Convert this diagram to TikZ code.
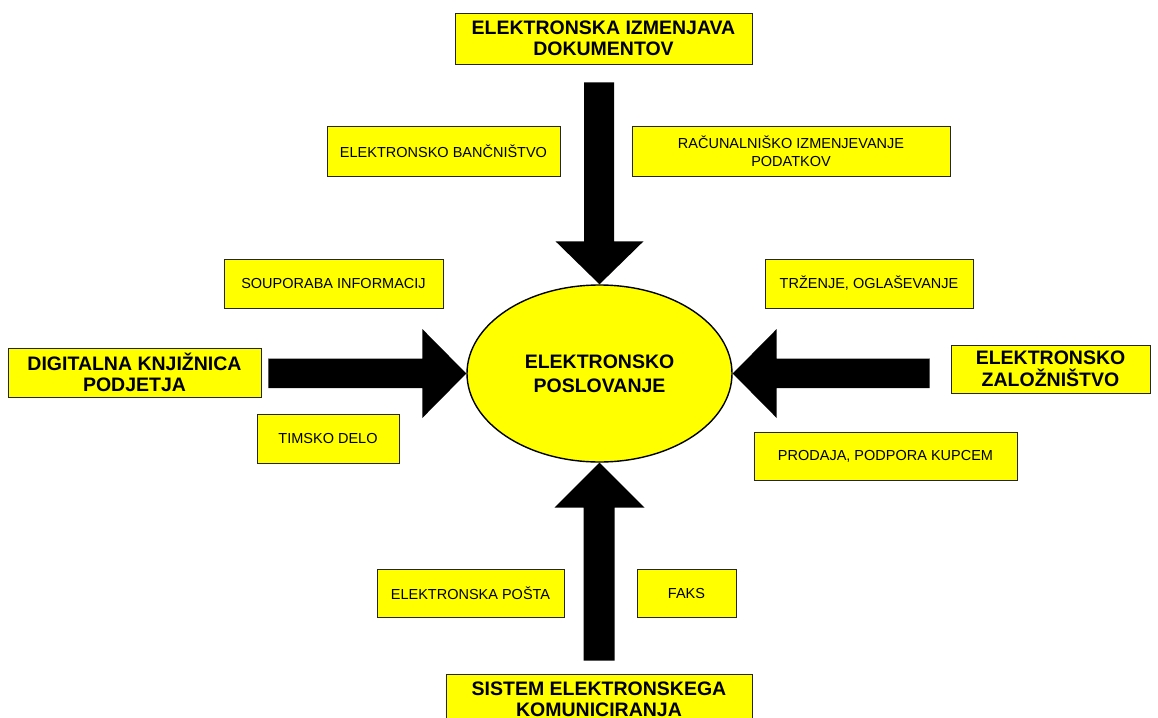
\documentclass[tikz,border=0pt]{standalone}
\usepackage{fontspec}
\setmainfont{Liberation Sans}
\usetikzlibrary{shapes.geometric,shadows,calc}

\definecolor{boxyellow}{RGB}{255,255,0}

\tikzset{
  box/.style={draw=black!85, line width=0.9pt, fill=boxyellow, inner sep=0pt,
    align=center, font=\fontsize{14.5}{18}\selectfont,
    drop shadow={shadow xshift=1.2pt, shadow yshift=-1.2pt, fill=black!45, opacity=1}},
  mainbox/.style={box, font=\bfseries\fontsize{19.5}{21.5}\selectfont},
  hub/.style={ellipse, draw=black, line width=1.4pt, fill=boxyellow, inner sep=0pt,
    minimum width=265pt, minimum height=177pt, align=center,
    font=\bfseries\fontsize{19.5}{24}\selectfont},
  bigarrow/.style={fill=black, draw=none}
}

\begin{document}
\begin{tikzpicture}[x=1pt, y=-1pt]
  \useasboundingbox (0,0) rectangle (1158,717);
  \clip (0,0) rectangle (1158,717);

  % central hub
  \node[hub] (ell) at (599.5,373.5) {ELEKTRONSKO\\POSLOVANJE};

  % four sources around the hub
  \node[mainbox, minimum width=297pt, minimum height=51pt] (top) at (603.5,38.5)
    {ELEKTRONSKA IZMENJAVA\\DOKUMENTOV};
  \node[mainbox, minimum width=253pt, minimum height=49pt] (left) at (134.5,372.5)
    {DIGITALNA KNJIŽNICA\\PODJETJA};
  \node[mainbox, minimum width=199pt, minimum height=48pt] (right) at (1050.5,369)
    {ELEKTRONSKO\\ZALOŽNIŠTVO};
  \node[mainbox, minimum width=306pt, minimum height=51pt] (bottom) at (599,699.5)
    {SISTEM ELEKTRONSKEGA\\KOMUNICIRANJA};

  % applications
  \node[box, minimum width=233pt, minimum height=50pt] (ban) at (443.5,151)
    {ELEKTRONSKO BANČNIŠTVO};
  \node[box, minimum width=318pt, minimum height=50pt] (rac) at (791,151)
    {RAČUNALNIŠKO IZMENJEVANJE\\PODATKOV};
  \node[box, minimum width=219pt, minimum height=49pt] (soup) at (333.5,283.5)
    {SOUPORABA INFORMACIJ};
  \node[box, minimum width=208pt, minimum height=49pt] (trz) at (869,283.5)
    {TRŽENJE, OGLAŠEVANJE};
  \node[box, minimum width=142pt, minimum height=49pt] (tim) at (328,438.5)
    {TIMSKO DELO};
  \node[box, minimum width=263pt, minimum height=48pt] (prod) at (885.5,456)
    {PRODAJA, PODPORA KUPCEM};
  \node[box, minimum width=187pt, minimum height=48pt] (posta) at (470.5,593)
    {ELEKTRONSKA POŠTA};
  \node[box, minimum width=99pt, minimum height=48pt] (faks) at (686.5,593)
    {FAKS};

  % block arrows pointing at the hub
  \fill[bigarrow] (ell.north) -- ++(-44,-43) -- ++(28.5,0) |- ($(top.south)+(-19.5,18)$)
    -- ++(30,0) |- ($(ell.north)+(15,-43)$) -- ++(29,0) -- cycle;
  \fill[bigarrow] (ell.south) -- ++(-45,45) -- ++(29,0) |- ($(bottom.north)+(-15.5,-13)$)
    -- ++(31,0) |- ($(ell.south)+(15.5,45)$) -- ++(29.5,0) -- cycle;
  \fill[bigarrow] (ell.west) -- ++(-44,-44.5) -- ++(0,29.5) -| ($(left.east)+(7,-14.5)$)
    -- ++(0,30) -| ($(ell.west)+(-44,15)$) -- ++(0,29.5) -- cycle;
  \fill[bigarrow] (ell.east) -- ++(44,-44.5) -- ++(0,29.5) -| ($(right.west)+(-21,-11)$)
    -- ++(0,30) -| ($(ell.east)+(44,15)$) -- ++(0,29.5) -- cycle;
\end{tikzpicture}
\end{document}
